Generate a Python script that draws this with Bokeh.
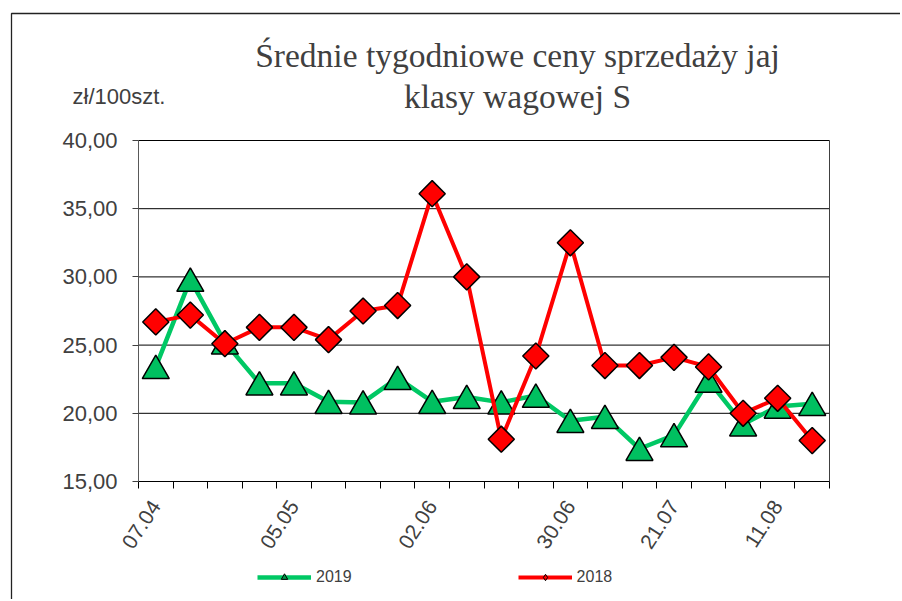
import numpy as np
from bokeh.plotting import figure
from bokeh.models import (ColumnDataSource, FixedTicker, Range1d, Label, Legend,
                          LegendItem, BoxAnnotation, LinearAxis)
from bokeh.transform import dodge
from bokeh.embed import file_html
from bokeh.resources import INLINE

# ---------------- data ----------------
weeks = ["07.04", "14.04", "21.04", "28.04", "05.05", "12.05", "19.05", "26.05",
         "02.06", "09.06", "16.06", "23.06", "30.06", "07.07", "14.07", "21.07",
         "28.07", "04.08", "11.08", "18.08"]
labeled_weeks = [0, 4, 8, 12, 15, 18]
price_2019 = [23.4, 29.8, 25.2, 22.2, 22.2, 20.85, 20.8, 22.6, 20.85, 21.2,
              20.8, 21.3, 19.45, 19.75, 17.4, 18.4, 22.4, 19.2, 20.5, 20.7]
price_2018 = [26.7, 27.2, 25.1, 26.3, 26.3, 25.4, 27.5, 27.9, 36.1, 30.0,
              18.1, 24.2, 32.5, 23.5, 23.5, 24.1, 23.4, 20.0, 21.1, 18.0]
y_ticks = [15, 20, 25, 30, 35, 40]
y_tick_labels = ["15,00", "20,00", "25,00", "30,00", "35,00", "40,00"]
series_names = ["2019", "2018"]
title_lines = ["Średnie tygodniowe ceny sprzedaży jaj", "klasy wagowej S"]
unit_label = "zł/100szt."

# ---------------- layout (pixels) ----------------
W, H = 900, 599
PL, PR, PT, PB = 138, 829, 140, 481      # plot area edges on the canvas

x = list(range(len(weeks)))
x_lo, x_hi = -0.5, len(weeks) - 0.5
y_lo, y_hi = y_ticks[0], y_ticks[-1]
xs = (PR - PL) / (x_hi - x_lo)
ys = (PB - PT) / (y_hi - y_lo)

src = ColumnDataSource(dict(x=x, y19=price_2019, y18=price_2018))

p = figure(width=W, height=H,
           x_range=Range1d(x_lo - PL / xs, x_hi + (W - PR) / xs),
           y_range=Range1d(y_lo - (H - PB) / ys, y_hi + PT / ys),
           x_axis_location=None, y_axis_location=None,
           output_backend="svg", toolbar_location=None,
           min_border=0)
p.background_fill_color = "white"
p.border_fill_color = "white"
p.outline_line_color = None
for g in p.grid:
    g.visible = False

# horizontal grid lines + right border of the plot area
grid_y = y_ticks[1:]
p.segment(x0=[x_lo] * len(grid_y), x1=[x_hi] * len(grid_y), y0=grid_y, y1=grid_y,
          line_color="black", line_width=1)
p.segment(x0=[x_hi], x1=[x_hi], y0=[y_lo], y1=[y_hi], line_color="#404040",
          line_width=1)

# y axis
ya = LinearAxis(fixed_location=x_lo, bounds=(y_lo, y_hi),
                ticker=FixedTicker(ticks=y_ticks))
ya.major_label_overrides = {t: l for t, l in zip(y_ticks, y_tick_labels)}
ya.major_label_text_font = "Liberation Sans"
ya.major_label_text_font_size = "22px"
ya.major_label_text_color = "#404040"
ya.axis_line_color = "#595959"
ya.major_tick_line_color = "#404040"
ya.major_tick_in = 0
ya.major_tick_out = 6
ya.minor_tick_in = 0
ya.minor_tick_out = 0
ya.major_label_standoff = 15
p.add_layout(ya, "left")

# x axis
xa = LinearAxis(fixed_location=y_lo, bounds=(x_lo, x_hi),
                ticker=FixedTicker(ticks=labeled_weeks,
                                   minor_ticks=[i - 0.5 for i in range(len(weeks) + 1)]))
xa.major_label_overrides = {i: weeks[i] for i in labeled_weeks}
xa.major_label_text_font = "Liberation Sans"
xa.major_label_text_font_size = "21px"
xa.major_label_text_color = "#404040"
xa.major_label_orientation = np.radians(57)
xa.axis_line_color = "black"
xa.major_tick_in = 0
xa.major_tick_out = 0
xa.minor_tick_in = 0
xa.minor_tick_out = 7
xa.minor_tick_line_color = "black"
xa.major_label_standoff = 14
p.add_layout(xa, "below")

GREEN_LINE = "#00C864"
GREEN_FILL = "#00C060"
RED = "#FF0000"
TRI = 27
# Bokeh centres triangles on their centroid; shift so the box is centred instead
tri_shift = -(TRI * np.sqrt(3) / 2 / 6) / ys

# 2019 series
l19 = p.line("x", "y19", source=src, line_color=GREEN_LINE, line_width=4.5)
s19_small = p.scatter("x", "y19", source=src, marker="triangle", size=8,
                      fill_color="#009848", line_color="black", line_width=1)
p.scatter("x", dodge("y19", tri_shift), source=src, marker="triangle", size=TRI,
          fill_color=GREEN_FILL, line_color="black", line_width=1.5)

# 2018 series
l18 = p.line("x", "y18", source=src, line_color=RED, line_width=4)
s18_small = p.scatter("x", "y18", source=src, marker="diamond", size=9,
                      fill_color=RED, line_color="black", line_width=1)
p.scatter("x", "y18", source=src, marker="square", size=18.5, angle=np.pi / 4,
          fill_color=RED, line_color="black", line_width=1.5)

legend = Legend(items=[LegendItem(label=series_names[0], renderers=[l19, s19_small]),
                       LegendItem(label=series_names[1], renderers=[l18, s18_small])],
                orientation="horizontal", location=(257, H - 586), spacing=166,
                glyph_width=54, glyph_height=16, label_height=16, label_standoff=5,
                padding=0, margin=0, border_line_color=None,
                background_fill_alpha=0,
                label_text_font="Liberation Sans", label_text_font_size="16px",
                label_text_color="#404040")
p.add_layout(legend)

# titles and unit label (screen units, y measured from the bottom)
for txt, yy in zip(title_lines, [55, 96]):
    p.add_layout(Label(x=517, y=H - yy, x_units="screen", y_units="screen", text=txt,
                       text_align="center", text_baseline="alphabetic",
                       text_font="Liberation Serif", text_font_size="33.5px",
                       text_color="#404040"))
p.add_layout(Label(x=72, y=H - 96, x_units="screen", y_units="screen", text=unit_label,
                   text_align="left", text_baseline="alphabetic",
                   text_font="Liberation Sans", text_font_size="22px",
                   text_color="#404040"))

# outer chart frame (only its left and top edges fall within the picture)
p.add_layout(BoxAnnotation(left=11, right=5000, top=H - 13, bottom=-5000,
                           left_units="screen", right_units="screen",
                           top_units="screen", bottom_units="screen",
                           fill_alpha=0, line_color="#222222", line_width=1.3,
                           line_alpha=1))

open("out.html", "w").write(file_html(p, INLINE))
